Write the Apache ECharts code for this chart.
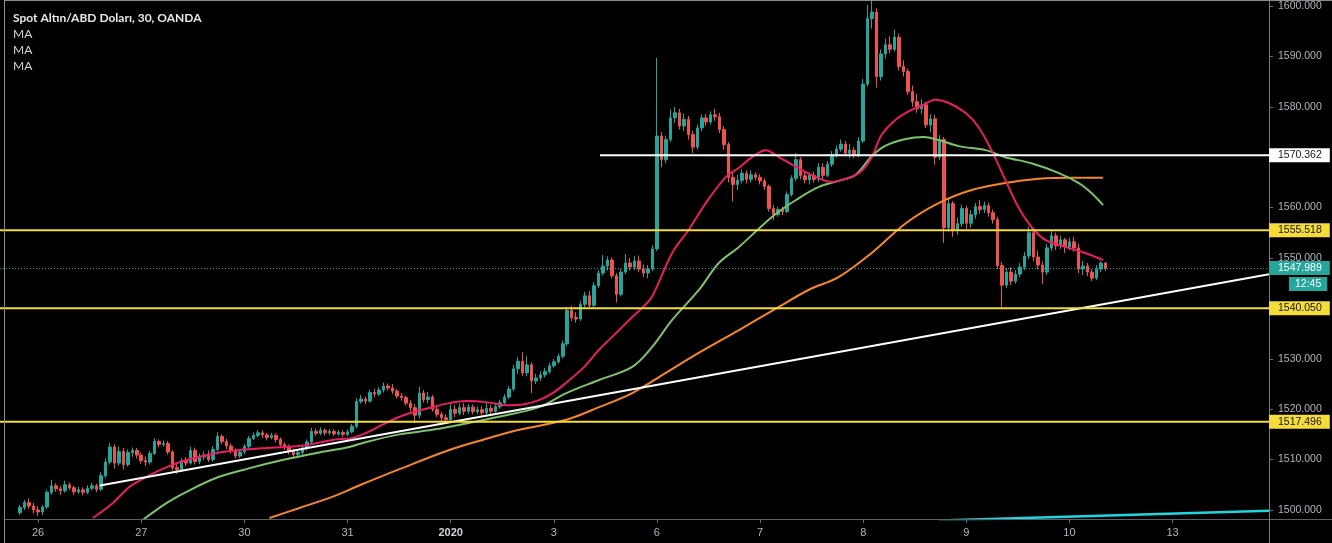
<!DOCTYPE html>
<html><head><meta charset="utf-8">
<script src="https://cdn.jsdelivr.net/npm/echarts@6/dist/echarts.min.js"></script>
<style>html,body{margin:0;padding:0;background:#000;overflow:hidden}#c{width:1332px;height:543px}</style>
</head><body><div id="c"></div>
<script>
// ---------- DATA ----------
const title = 'Spot Altın/ABD Doları, 30, OANDA';
const maLabels = ['MA', 'MA', 'MA'];
const dayLabels = ['26', '27', '30', '31', '2020', '3', '6', '7', '8', '9', '10', '13'];
const slotCount = 283;      // hourly slots across the plot
const firstDaySlot = 8;     // slot of the first day label
const barsPerDay = 23;      // hourly bars per session
const candleStart = 4;      // slot of the first candle
const priceTicks = [1500, 1510, 1520, 1530, 1540, 1550, 1560, 1570, 1580, 1590, 1600];

// [open, close, low, high]
const candles = [
[1499.5,1500.5,1499.0,1501.0],[1500.5,1501.5,1500.0,1502.0],[1501.5,1500.8,1500.2,1502.3],[1500.8,1500.0,1499.3,1501.4],
[1500.0,1499.6,1498.8,1500.8],[1499.6,1500.6,1499.0,1501.0],[1500.6,1503.5,1500.2,1504.0],[1503.5,1504.8,1503.0,1506.0],
[1504.8,1504.2,1503.6,1505.3],[1504.2,1503.8,1503.0,1504.8],[1503.8,1505.0,1503.4,1505.8],[1505.0,1504.4,1503.9,1505.5],
[1504.4,1503.6,1503.0,1504.8],[1503.6,1504.0,1503.2,1504.6],[1504.0,1503.5,1502.9,1504.5],[1503.5,1504.3,1503.1,1504.9],
[1504.3,1504.8,1503.9,1505.4],[1504.8,1504.1,1503.5,1505.2],[1504.1,1506.8,1503.8,1507.5],[1506.8,1509.5,1506.3,1510.2],
[1509.5,1512.5,1509.0,1513.3],[1512.5,1509.3,1508.2,1513.0],[1509.3,1511.6,1508.8,1512.6],[1511.6,1509.0,1508.0,1512.3],
[1509.0,1511.4,1508.6,1512.0],[1511.4,1511.8,1510.5,1512.4],[1511.8,1510.9,1510.2,1512.3],[1510.9,1509.8,1509.2,1511.4],
[1509.8,1509.5,1508.7,1510.6],[1509.5,1511.2,1509.0,1511.8],[1511.2,1513.6,1510.9,1514.2],[1513.6,1513.0,1512.4,1514.0],
[1513.0,1513.2,1512.5,1513.8],[1513.2,1511.5,1511.0,1513.7],[1511.5,1508.4,1507.8,1511.9],[1508.4,1508.0,1507.2,1509.1],
[1508.0,1509.8,1507.6,1510.3],[1509.8,1509.3,1508.7,1510.5],[1509.3,1511.8,1509.0,1512.6],[1511.8,1509.6,1509.0,1512.4],
[1509.6,1510.5,1509.1,1511.2],[1510.5,1510.9,1509.9,1511.6],[1510.9,1510.0,1509.5,1511.8],[1510.0,1512.0,1509.6,1512.7],
[1512.0,1514.6,1511.6,1515.4],[1514.6,1513.6,1513.0,1515.0],[1513.6,1512.7,1512.1,1514.1],[1512.7,1511.8,1511.2,1513.2],
[1511.8,1510.7,1510.2,1512.2],[1510.7,1511.5,1510.3,1512.0],[1511.5,1512.6,1511.1,1513.1],[1512.6,1514.2,1512.2,1514.7],
[1514.2,1514.8,1513.9,1515.4],[1514.8,1515.3,1514.4,1515.9],[1515.3,1514.9,1514.3,1515.8],[1514.9,1514.4,1513.8,1515.3],
[1514.4,1514.8,1514.0,1515.3],[1514.8,1514.0,1513.4,1515.2],[1514.0,1513.0,1512.5,1514.4],[1513.0,1512.6,1511.9,1513.4],
[1512.6,1511.6,1511.0,1513.0],[1511.6,1511.0,1510.5,1512.1],[1511.0,1511.4,1510.4,1512.0],[1511.4,1512.3,1510.9,1512.9],
[1512.3,1513.5,1511.8,1514.0],[1513.5,1515.6,1513.0,1516.3],[1515.6,1515.2,1514.7,1516.2],[1515.2,1515.8,1514.8,1516.4],
[1515.8,1515.3,1514.8,1516.2],[1515.3,1515.6,1514.9,1516.1],[1515.6,1515.1,1514.7,1516.0],[1515.1,1515.4,1514.7,1515.9],
[1515.4,1515.0,1514.5,1515.8],[1515.0,1515.5,1514.6,1516.0],[1515.5,1516.6,1515.2,1517.1],[1516.6,1521.5,1516.2,1522.2],
[1521.5,1522.0,1521.1,1522.8],[1522.0,1521.6,1521.0,1522.5],[1521.6,1523.3,1521.3,1523.9],[1523.3,1523.0,1522.4,1524.1],
[1523.0,1523.8,1522.6,1524.4],[1523.8,1524.6,1523.3,1525.3],[1524.6,1524.2,1523.7,1525.1],[1524.2,1523.6,1523.0,1525.0],
[1523.6,1522.6,1522.1,1524.0],[1522.6,1522.3,1521.7,1523.2],[1522.3,1521.2,1520.7,1522.7],[1521.2,1520.3,1519.6,1521.8],
[1520.3,1518.8,1517.2,1521.0],[1518.8,1523.2,1518.2,1524.4],[1523.2,1521.9,1521.3,1523.8],[1521.9,1522.4,1521.2,1523.4],
[1522.4,1520.0,1519.5,1522.8],[1520.0,1519.0,1518.4,1520.5],[1519.0,1518.3,1517.6,1519.5],[1518.3,1517.9,1517.4,1519.0],
[1517.9,1520.0,1517.5,1521.0],[1520.0,1519.2,1518.4,1520.8],[1519.2,1520.3,1518.8,1521.1],[1520.3,1519.6,1518.9,1521.2],
[1519.6,1520.4,1519.1,1521.0],[1520.4,1519.5,1519.0,1520.9],[1519.5,1519.9,1519.1,1520.5],[1519.9,1519.3,1518.8,1520.6],
[1519.3,1520.2,1518.6,1521.3],[1520.2,1519.6,1518.8,1520.8],[1519.6,1520.5,1519.2,1521.0],[1520.5,1521.3,1520.1,1521.8],
[1521.3,1522.4,1521.0,1523.0],[1522.4,1524.0,1522.0,1524.6],[1524.0,1528.0,1523.6,1528.8],[1528.0,1529.5,1527.0,1530.3],
[1529.5,1527.2,1526.6,1531.3],[1527.2,1528.8,1526.5,1530.5],[1528.8,1525.6,1523.2,1529.3],[1525.6,1526.2,1525.0,1527.0],
[1526.2,1526.8,1525.6,1527.5],[1526.8,1527.5,1526.3,1528.2],[1527.5,1528.6,1527.0,1529.2],[1528.6,1529.4,1528.2,1530.0],
[1529.4,1530.5,1529.0,1531.0],[1530.5,1533.0,1530.1,1533.6],[1533.0,1539.6,1532.5,1540.3],[1539.6,1538.2,1537.5,1540.5],
[1538.2,1537.9,1537.2,1539.2],[1537.9,1540.8,1537.5,1541.5],[1540.8,1542.5,1540.2,1543.3],[1542.5,1540.6,1540.0,1543.4],
[1540.6,1544.5,1540.2,1545.2],[1544.5,1547.0,1544.0,1547.6],[1547.0,1548.4,1546.5,1550.6],[1548.4,1549.6,1547.5,1550.3],
[1549.6,1546.5,1546.0,1550.1],[1546.5,1542.8,1541.2,1547.0],[1542.8,1547.2,1542.4,1547.8],[1547.2,1549.0,1546.8,1550.8],
[1549.0,1548.2,1547.5,1550.0],[1548.2,1549.4,1547.6,1550.4],[1549.4,1547.8,1547.2,1550.5],[1547.8,1547.0,1546.2,1548.7],
[1547.0,1547.8,1546.0,1548.6],[1547.8,1551.8,1547.4,1552.5],[1551.8,1574.2,1551.4,1589.7],[1574.2,1569.5,1568.0,1575.0],
[1569.5,1573.5,1568.8,1574.3],[1573.5,1577.8,1573.0,1579.5],[1577.8,1578.8,1576.8,1580.0],[1578.8,1576.2,1575.5,1579.6],
[1576.2,1577.5,1575.2,1578.7],[1577.5,1574.5,1573.5,1578.2],[1574.5,1572.0,1570.8,1575.2],[1572.0,1575.8,1571.5,1576.5],
[1575.8,1577.8,1575.2,1578.5],[1577.8,1577.0,1576.3,1578.6],[1577.0,1578.4,1576.5,1579.1],[1578.4,1578.0,1577.2,1579.6],
[1578.0,1575.5,1574.8,1578.8],[1575.5,1572.5,1571.5,1576.2],[1572.5,1566.0,1565.0,1573.0],[1566.0,1564.6,1561.2,1567.0],
[1564.6,1565.4,1563.5,1566.5],[1565.4,1566.8,1564.8,1567.6],[1566.8,1565.6,1564.8,1567.4],[1565.6,1566.5,1565.0,1567.4],
[1566.5,1566.0,1565.4,1567.0],[1566.0,1565.3,1564.6,1566.6],[1565.3,1564.2,1563.5,1565.8],[1564.2,1559.8,1559.2,1564.6],
[1559.8,1558.6,1557.5,1560.5],[1558.6,1559.6,1558.2,1560.2],[1559.6,1559.2,1558.5,1560.2],[1559.2,1562.6,1558.9,1563.2],
[1562.6,1565.8,1562.2,1566.4],[1565.8,1569.5,1565.2,1570.8],[1569.5,1566.3,1565.6,1570.0],[1566.3,1565.5,1564.8,1567.2],
[1565.5,1566.4,1564.6,1567.0],[1566.4,1565.6,1564.9,1567.1],[1565.6,1568.0,1565.1,1568.8],[1568.0,1566.4,1565.3,1568.8],
[1566.4,1568.6,1566.0,1569.2],[1568.6,1570.4,1568.1,1571.2],[1570.4,1571.6,1569.9,1572.3],[1571.6,1572.6,1571.1,1573.5],
[1572.6,1570.8,1570.2,1573.2],[1570.8,1571.4,1569.8,1572.6],[1571.4,1570.4,1569.8,1572.0],[1570.4,1573.2,1570.0,1574.0],
[1573.2,1584.5,1572.8,1585.5],[1584.5,1597.5,1584.0,1600.2],[1597.5,1598.8,1595.5,1602.0],[1598.8,1586.0,1583.8,1599.5],
[1586.0,1590.5,1585.2,1591.4],[1590.5,1592.3,1589.6,1593.5],[1592.3,1591.4,1590.6,1594.0],[1591.4,1593.8,1591.0,1595.3],
[1593.8,1588.0,1587.2,1594.5],[1588.0,1587.0,1586.0,1589.2],[1587.0,1583.0,1582.3,1587.6],[1583.0,1581.0,1580.0,1584.2],
[1581.0,1579.6,1578.8,1582.6],[1579.6,1580.4,1578.6,1581.5],[1580.4,1576.4,1575.8,1581.0],[1576.4,1577.6,1575.0,1578.5],
[1577.6,1570.0,1568.5,1578.4],[1570.0,1573.5,1569.4,1574.4],[1573.5,1556.0,1553.0,1574.0],[1556.0,1560.8,1555.2,1561.8],
[1560.8,1555.5,1554.2,1561.3],[1555.5,1556.8,1554.6,1558.0],[1556.8,1559.8,1556.2,1560.6],[1559.8,1556.9,1555.8,1560.4],
[1556.9,1558.6,1556.0,1559.5],[1558.6,1560.2,1557.8,1560.9],[1560.2,1559.6,1558.8,1561.5],[1559.6,1560.4,1558.9,1561.2],
[1560.4,1559.0,1558.2,1561.0],[1559.0,1557.6,1556.8,1559.6],[1557.6,1548.5,1547.8,1558.2],[1548.5,1544.6,1540.3,1549.2],
[1544.6,1547.2,1544.0,1548.0],[1547.2,1545.4,1544.6,1548.2],[1545.4,1546.8,1544.9,1547.6],[1546.8,1548.2,1546.2,1549.0],
[1548.2,1550.4,1547.6,1551.2],[1550.4,1555.0,1549.8,1556.2],[1555.0,1550.2,1549.4,1555.8],[1550.2,1548.6,1547.8,1551.5],
[1548.6,1547.2,1544.8,1549.3],[1547.2,1552.0,1546.6,1552.8],[1552.0,1554.4,1551.4,1555.3],[1554.4,1552.4,1551.6,1555.0],
[1552.4,1553.6,1551.8,1554.4],[1553.6,1552.2,1551.0,1554.0],[1552.2,1553.2,1551.6,1554.0],[1553.2,1552.0,1551.2,1554.2],
[1552.0,1547.8,1547.0,1552.8],[1547.8,1548.4,1546.6,1549.4],[1548.4,1547.2,1546.4,1549.0],[1547.2,1546.0,1545.4,1547.8],
[1546.0,1547.8,1545.6,1548.6],[1547.8,1549.0,1547.2,1549.4],[1549.0,1547.989,1547.4,1549.2]
];

// moving averages: [slot, price]
const maFast = [[20.2,1498.4],[24.7,1501.4],[28.4,1504.6],[32.9,1506.9],[36.7,1508.5],[41.1,1509.9],[47.8,1511.3],[52.9,1511.9],[59.0,1512.3],[63.4,1512.5],[67.9,1512.9],[73.6,1513.9],[78.1,1514.3],[81.2,1515.3],[85.2,1517.1],[88.6,1518.5],[92.4,1519.6],[95.9,1520.4],[99.7,1521.2],[103.5,1521.6],[107.9,1521.4],[112.4,1520.8],[116.4,1521.0],[119.7,1521.8],[123.1,1523.4],[125.7,1525.2],[129.8,1528.4],[133.1,1531.8],[136.9,1535.1],[140.5,1538.3],[142.7,1540.1],[144.9,1542.3],[149.4,1551.0],[153.1,1555.6],[156.9,1560.9],[161.4,1566.1],[164.3,1567.9],[167.2,1570.0],[170.3,1571.4],[173.2,1570.0],[177.0,1568.1],[181.4,1566.1],[185.0,1565.1],[188.8,1565.9],[191.4,1567.1],[193.9,1570.0],[196.1,1574.4],[199.2,1577.4],[202.8,1579.4],[205.0,1580.2],[208.1,1581.4],[211.0,1580.8],[214.8,1578.8],[217.7,1576.0],[220.6,1571.4],[223.7,1565.5],[226.6,1560.1],[229.5,1556.2],[232.6,1553.6],[237.1,1552.2],[241.5,1551.0],[245.5,1549.6]];
const maMid = [[31.3,1498.0],[36.7,1501.4],[41.1,1503.6],[47.8,1506.4],[55.2,1508.3],[62.5,1509.9],[70.1,1511.3],[77.4,1512.5],[81.2,1513.5],[88.6,1515.0],[95.9,1515.9],[99.7,1516.5],[104.2,1517.3],[110.8,1518.5],[119.7,1520.4],[125.8,1523.2],[133.1,1525.8],[140.5,1528.4],[144.9,1532.3],[149.4,1537.7],[155.4,1543.7],[159.8,1549.0],[164.3,1552.2],[171.6,1558.1],[177.0,1561.5],[182.1,1564.1],[186.5,1565.3],[190.3,1566.5],[193.9,1570.2],[196.8,1572.2],[201.5,1573.6],[205.5,1574.0],[208.8,1573.4],[213.3,1572.2],[219.3,1571.4],[223.7,1570.0],[229.5,1568.8],[235.5,1566.9],[240.0,1564.9],[242.9,1562.9],[245.5,1560.5]];
const maSlow = [[59.6,1498.4],[66.3,1500.4],[73.6,1502.6],[79.7,1504.9],[88.6,1508.1],[99.7,1511.9],[107.1,1513.9],[115.3,1515.9],[125.8,1517.9],[133.1,1520.4],[140.5,1523.2],[148.0,1527.2],[155.4,1531.2],[164.3,1535.7],[173.2,1540.3],[179.9,1543.7],[186.5,1546.2],[193.9,1551.0],[201.5,1556.9],[208.8,1560.9],[216.2,1563.5],[223.7,1564.9],[231.1,1565.7],[238.4,1565.9],[245.5,1565.9]];

// drawings
const trendWhite = [[21.8,1504.86],[282.5,1546.77]];
const trendCyan = [[208.8,1497.9],[282.5,1499.84]];
const resistanceLevel = 1570.362;
const resistanceStartSlot = 133.3;
const yellowLevels = [1555.518, 1540.050, 1517.496];
const lastPrice = 1547.989;
const countdown = '12:45';

// ---------- CHART ----------
const C = {
  up: '#26a69a', down: '#ef5350', pink: '#e91e63', green: '#7cc36a', orange: '#f7862a',
  yellow: '#f5dc3a', white: '#ffffff', cyan: '#22d3e0', axisText: '#b2b5be', frame: '#5d606b'
};
const cats = new Array(slotCount).fill('');
dayLabels.forEach((d, k) => { cats[firstDaySlot + k * barsPerDay] = d; });
const candleData = new Array(slotCount).fill('-');
candles.forEach((c, i) => { candleData[candleStart + i] = c; });

const chart = echarts.init(document.getElementById('c'), null, {renderer: 'canvas'});
const lineSeries = (data, color, width, z, smooth) => ({
  type: 'line', xAxisIndex: 1, yAxisIndex: 0, data, showSymbol: false, symbol: 'none',
  smooth: smooth || false, lineStyle: {color, width}, silent: true, z, animation: false
});

const series = [
  {
    type: 'candlestick', xAxisIndex: 0, yAxisIndex: 0, data: candleData, barWidth: 3, z: 2,
    itemStyle: {color: C.up, color0: C.down, borderColor: C.up, borderColor0: C.down, borderWidth: 1},
    markLine: {
      silent: true, symbol: 'none', label: {show: false},
      lineStyle: {color: C.up, type: [1, 2], width: 1},
      data: [{yAxis: lastPrice}]
    }
  },
  lineSeries(maSlow, C.orange, 2, 3, 0.35),
  lineSeries(maMid, C.green, 2, 3, 0.35),
  lineSeries(maFast, C.pink, 2, 3, 0.35),
  lineSeries(trendWhite, C.white, 2, 4),
  lineSeries(trendCyan, C.cyan, 2.5, 4),
  lineSeries([[resistanceStartSlot, resistanceLevel], [slotCount - 0.5, resistanceLevel]], C.white, 2, 4)
];
yellowLevels.forEach(v => series.push(lineSeries([[-0.5, v], [slotCount - 0.5, v]], C.yellow, 2, 4)));

chart.setOption({
  backgroundColor: '#000000',
  animation: false,
  grid: {left: 0, right: 63, top: 0, bottom: 24, containLabel: false},
  xAxis: [
    {
      type: 'category', data: cats, boundaryGap: true,
      axisLine: {show: false, onZero: false},
      axisTick: {show: true, interval: (i, v) => v !== '', alignWithLabel: true, length: 4, lineStyle: {color: '#6a6d78'}},
      axisLabel: {
        interval: (i, v) => v !== '', color: C.axisText, fontSize: 11, fontFamily: 'Liberation Sans', margin: 8,
        formatter: v => v === '2020' ? '{b|2020}' : v,
        rich: {b: {fontWeight: 'bold', color: '#d1d4dc', fontSize: 11, fontFamily: 'Liberation Sans'}}
      },
      splitLine: {show: false}
    },
    {type: 'value', min: -0.5, max: slotCount - 0.5, show: false, axisLine: {onZero: false}}
  ],
  yAxis: [{
    type: 'value', position: 'right', min: 1498.21, max: 1601.19, scale: true,
    axisLine: {show: false, onZero: false},
    axisTick: {show: true, customValues: priceTicks, length: 4, lineStyle: {color: '#6a6d78'}},
    axisLabel: {customValues: priceTicks, color: C.axisText, fontSize: 10.5, fontFamily: 'Liberation Sans', margin: 9,
      formatter: v => Number(v).toFixed(3)},
    splitLine: {show: false}
  }],
  series
});

// price tags, header text and frame
const py = v => chart.convertToPixel({yAxisIndex: 0}, v);
const axisX = 1269;
const tag = (v, bg, fg, text, dy, x) => ({
  type: 'text', z: 100, x: x || axisX, y: py(v) + (dy || 0),
  style: {text: text || v.toFixed(3), fill: fg, backgroundColor: bg, padding: [1, 8, 1, 9],
    font: '10.5px "Liberation Sans"', lineHeight: 12, align: 'left', verticalAlign: 'middle'}
});
const graphics = [
  {type: 'line', z: 90, shape: {x1: 4, y1: 519.5, x2: 1332, y2: 519.5}, style: {stroke: C.frame, lineWidth: 1}},
  {type: 'line', z: 90, shape: {x1: axisX + 0.5, y1: 0, x2: axisX + 0.5, y2: 543}, style: {stroke: '#787b86', lineWidth: 1}},
  {type: 'line', z: 90, shape: {x1: 4, y1: 0.5, x2: 1332, y2: 0.5}, style: {stroke: '#8c8c8c', lineWidth: 1}},
  {type: 'line', z: 90, shape: {x1: 4.5, y1: 0, x2: 4.5, y2: 543}, style: {stroke: '#8c8c8c', lineWidth: 1}},
  {type: 'text', z: 100, x: 13, y: 18, style: {text: title, fill: '#e6e8ee', font: 'bold 12px Lato', verticalAlign: 'middle'}},
  tag(resistanceLevel, '#ffffff', '#131722'),
  tag(yellowLevels[0], C.yellow, '#131722'),
  tag(lastPrice, C.up, '#ffffff'),
  tag(lastPrice, C.up, '#ffffff', countdown, 16, 1289),
  tag(yellowLevels[1], C.yellow, '#131722'),
  tag(yellowLevels[2], C.yellow, '#131722')
];
maLabels.forEach((m, i) => graphics.push({type: 'text', z: 100, x: 13, y: 34 + i * 16,
  style: {text: m, fill: '#d1d4dc', font: '12px Lato', verticalAlign: 'middle'}}));
graphics[8].style.padding = [1, 6, 1, 6];
chart.setOption({graphic: graphics});
</script>
</body></html>
